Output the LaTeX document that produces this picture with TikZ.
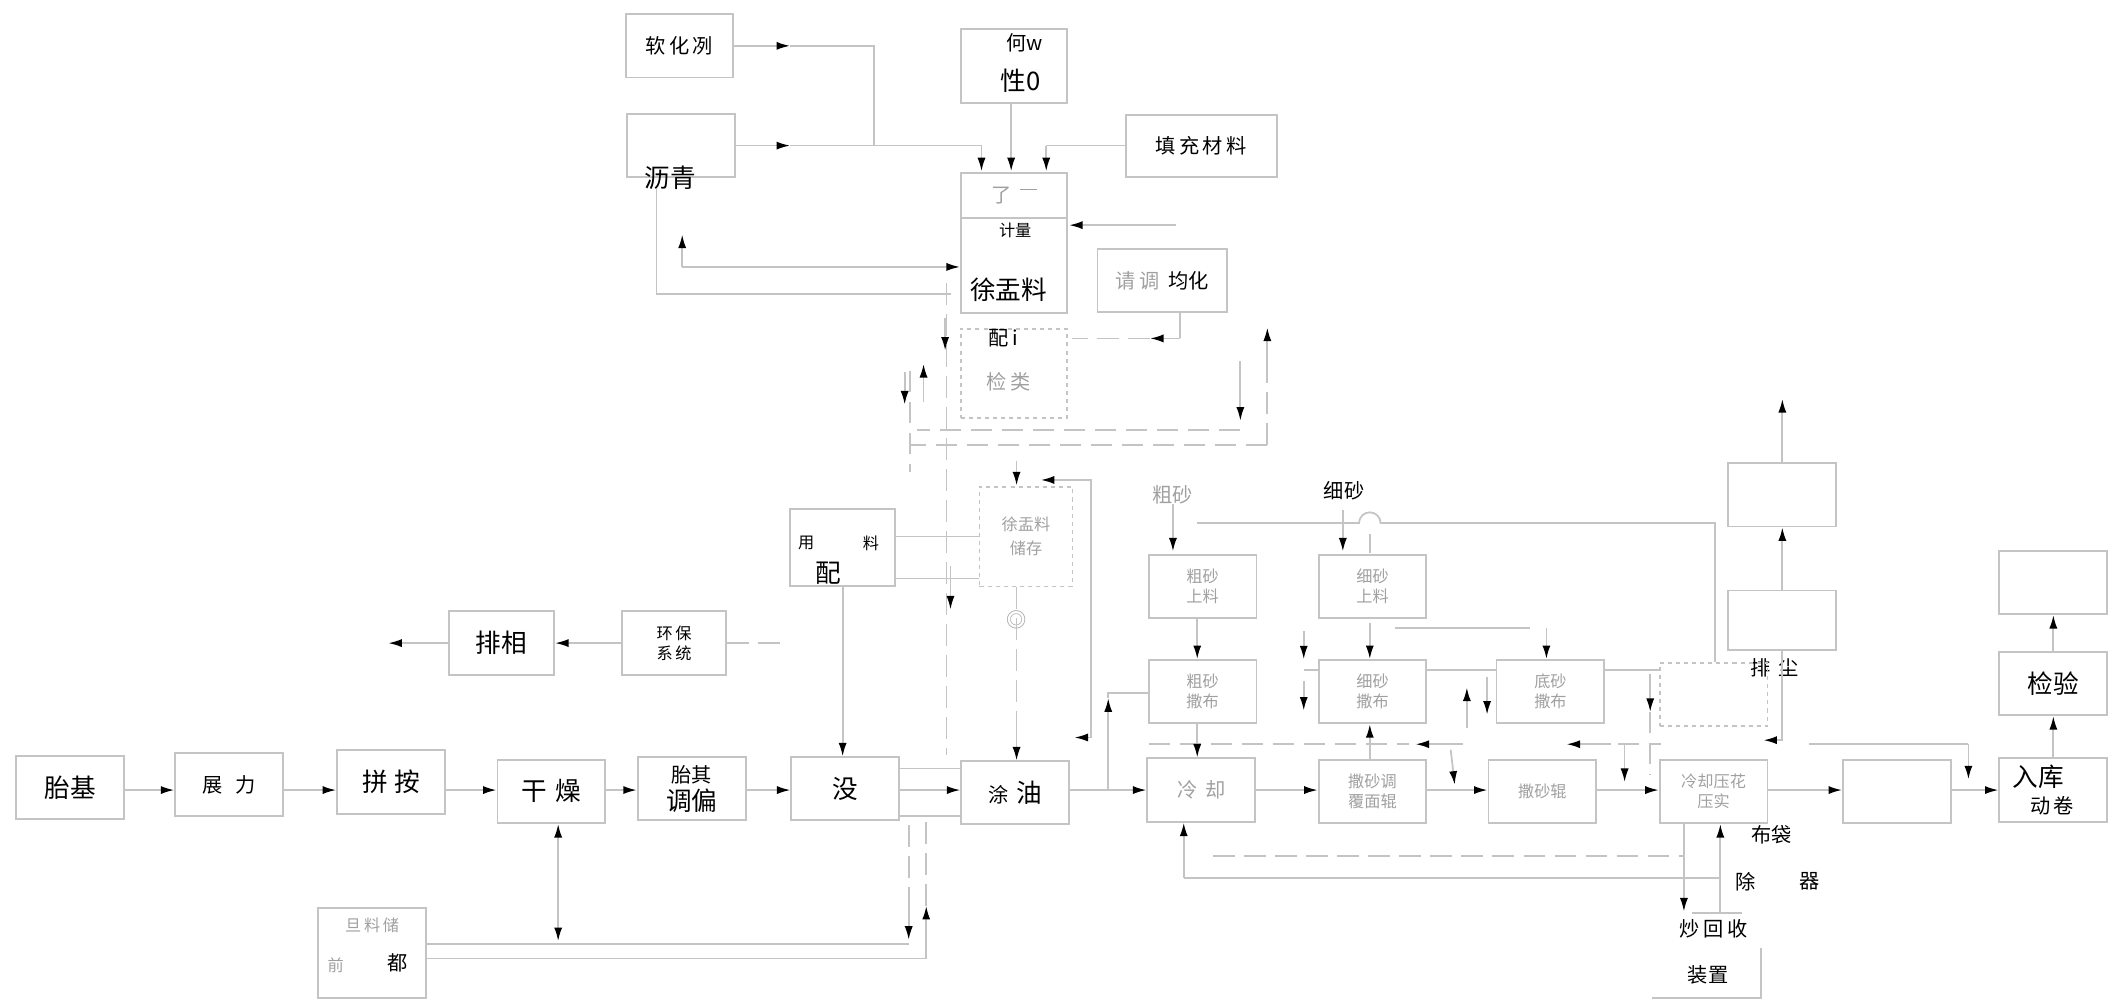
\documentclass[tikz,border=0pt]{standalone}
\usepackage{fontspec}
\setmainfont{Noto Sans CJK SC}
\usetikzlibrary{arrows.meta}
\definecolor{rule}{HTML}{C4C4C4}
\definecolor{pale}{HTML}{A0A0A0}
\newcommand{\fbig}{\fontsize{19}{23}\selectfont}
\newcommand{\fmid}{\fontsize{15}{21}\selectfont}
\newcommand{\fsml}{\fontsize{12}{15}\selectfont}
\tikzset{
  box/.style={draw=rule,line width=1.4pt,minimum width=80pt,minimum height=47pt,inner sep=1pt,
              align=center,font=\fmid},
  dim/.style={text=pale},
  ln/.style={draw=rule,line width=1.3pt},
  dl/.style={ln,dash pattern=on 16pt off 7pt},
  ar/.style={ln,-{Latex[length=10pt,width=6pt,color=black]}},
  lbl/.style={inner sep=0pt,font=\fmid},
}
\begin{document}
\begin{tikzpicture}[x=1pt,y=-1pt]
  \useasboundingbox (0,0) rectangle (1568,746);
  % raw materials
  \node[box] (soft) at (504,34) {软\,化\,冽};
  \node[box] (asph) at (505,108) {};
  \node[lbl,font=\fbig] (asphl) at (497,132) {沥青};
  \node[box,minimum width=79pt,minimum height=55pt] (modi) at (752,49) {};
  \node[lbl] (modia) at (760,32) {何w};
  \node[lbl,font=\fbig] (modib) at (757,60) {性0};
  \node[box,minimum width=112pt,minimum height=46pt,font=\fmid] (fill) at (891,108) {填\,充\,材\,料};
  % metering column
  \node[box,minimum width=79pt,minimum height=34pt,dim] (meta) at (752,145) {了\ \ \rule[9pt]{12pt}{0.8pt}};
  \node[box,minimum width=79pt,minimum height=70pt] (metb) at (752,197) {};
  \node[lbl,font=\fsml] (metl) at (753,171) {计量};
  \node[lbl,font=\fbig] (mixl) at (748,215) {徐盂料};
  \node[box,dashed,minimum width=79pt,minimum height=66pt] (chk1) at (752,277) {};
  \node[lbl] (chkl) at (744,251) {配\,i};
  \node[lbl,dim] (chkm) at (748,283) {检\,类};
  \node[box,minimum width=96pt,minimum height=47pt] (homo) at (862,208) {{\color{pale}请\,调}\ \ 均化};
  % middle
  \node[box,minimum width=78pt,minimum height=57pt] (dose) at (625,406) {};
  \node[lbl,font=\fsml] (dosea) at (598,403) {用};
  \node[lbl,font=\fsml] (doseb) at (646,403) {料};
  \node[lbl,font=\fbig] (dosec) at (614,425) {配};
  \node[box,dashed,minimum width=69pt,minimum height=74pt,dim,font=\fsml] (stor) at (761,398) {徐盂料\\[3pt]储存};
  \node[lbl,dim] (ring) at (754,460) {◎};
  \node[box,minimum width=77pt,minimum height=47pt,font=\fsml] (env) at (500,477) {环\,保\\系\,统};
  \node[box,minimum width=78pt,font=\fbig] (fume) at (372,477) {排相};
  % main line
  \node[box,font=\fbig] (tj) at (52,584) {胎基};
  \node[box] (zl) at (170,582) {展\hspace{9pt}力};
  \node[box,font=\fbig] (pj) at (290,580) {拼\hspace{5pt}按};
  \node[box,font=\fbig] (gz) at (409,587) {干\hspace{6pt}燥};
  \node[box] (tq) at (513,585) {胎其\\{\fbig 调偏}};
  \node[box,font=\fbig] (mo) at (627,585) {没};
  \node[box] (ty) at (753,588) {涂\hspace{6pt}{\fbig 油}};
  \node[box,dim] (lq) at (891,586) {冷\hspace{6pt}却};
  \node[box,dim,font=\fsml] (sf) at (1018,587) {撒砂调\\覆面辊};
  \node[box,dim,font=\fsml] (sg) at (1144,587) {撒砂辊};
  \node[box,dim,font=\fsml] (ly) at (1271,587) {冷却压花\\压实};
  \node[box] (ke) at (1407,587) {};
  \node[box] (rk) at (1523,586) {};
  \node[lbl,font=\fbig] (rka) at (1512,576) {入库};
  \node[lbl] (rkb) at (1522,598) {动\,卷};
  \node[box,font=\fbig] (sy) at (1523,507) {检验};
  \node[box] (tp) at (1523,432) {};
  \node[box] (r1) at (1322,367) {};
  \node[box,minimum height=44pt] (r2) at (1322,460) {};
  \node[lbl] (dust) at (1316,495) {排\hspace{6pt}尘};
  % sand
  \node[lbl,dim] (csl) at (870,367) {粗砂};
  \node[lbl] (xsl) at (997,364) {细砂};
  \node[box,dim,font=\fsml] (s1) at (892,435) {粗砂\\上料};
  \node[box,dim,font=\fsml] (s2) at (1018,435) {细砂\\上料};
  \node[box,dim,font=\fsml] (s3) at (892,513) {粗砂\\撒布};
  \node[box,dim,font=\fsml] (s4) at (1018,513) {细砂\\撒布};
  \node[box,dim,font=\fsml] (s5) at (1150,513) {底砂\\撒布};
  \node[box,dashed] (s6) at (1271,515) {};
  % stock
  \node[box,minimum width=80pt,minimum height=67pt] (stk) at (276,707) {};
  \node[lbl,dim,font=\fsml] (stka) at (276,686) {旦\,料\,储};
  \node[lbl,dim,font=\fsml] (stkb) at (249,716) {前};
  \node[lbl] (stkc) at (295,714) {都};
  % filter
  \node[lbl] (bd) at (1314,619) {布袋};
  \node[lbl] (bc) at (1295,654) {除};
  \node[lbl] (bq) at (1342,654) {器};
  \node[lbl] (bh) at (1271,689) {炒\,回\,收};
  \node[lbl] (bz) at (1267,723) {装置};

  % feed lines
  \draw[ar] (soft.east) -- (586,34);
  \draw[ln] (586,34) -- (648,34) -- (648,108);
  \draw[ar] (asph.east) -- (586,108);
  \draw[ln] (586,108) -- (728,108);
  \draw[ar] (728,108) -- (728,127);
  \draw[ln] (modi.south -| 750,0) -- (750,108);
  \draw[ar] (750,108) -- (750,127);
  \draw[ln] (fill.west) -- (776,108);
  \draw[ar] (776,108) -- (776,127);
  \draw[ar] (872,167) -- (793,167);
  \draw[ln] (homo.south -| 875,0) -- (875,251);
  \draw[ar] (875,251) -- (853,251);
  \draw[dl] (853,251) -- (795,251);
  \draw[ln] (487,140) -- (487,218) -- (705,218);
  \draw[ln] (506,198) -- (700,198);
  \draw[ar] (700,198) -- (712,198);
  \draw[ar] (506,198) -- (506,174);
  \draw[dl] (940,330) -- (940,268);
  \draw[ar] (940,268) -- (940,243);
  \draw[ar] (920,268) -- (920,312);
  \draw[dl] (920,319) -- (680,319);
  \draw[dl] (940,330) -- (675,330);
  \draw[dl] (702,210) -- (702,560);
  \draw[dl] (675,275) -- (675,350);
  \draw[ar] (701,236) -- (701,260);
  \draw[ar] (685,298) -- (685,270);
  \draw[ar] (671,276) -- (671,300);
  % middle
  \draw[ln] (dose.east |- 0,398) -- (stor.west |- 0,398);
  \draw[ln] (dose.east |- 0,429) -- (stor.west |- 0,429);
  \draw[ar] (754,342) -- (754,360);
  \draw[ar] (809,450) -- (809,356) -- (772,356);
  \draw[ar] (809,450) -- (809,547) -- (797,547);
  \draw[ar] (705,420) -- (705,452);
  \draw[ar] (dose.south) -- (625,561);
  \draw[dl] (stor.south -| 754,0) -- (754,540);
  \draw[ar] (754,540) -- (754,564);
  \draw[ar] (env.west) -- (fume.east);
  \draw[ar] (fume.west) -- (288,477);
  \draw[dl] (env.east) -- (585,477);
  % main line
  \foreach \a/\b in {tj/zl,zl/pj,pj/gz,gz/tq,tq/mo,mo/ty,ty/lq,lq/sf,sf/sg,sg/ly,ly/ke,ke/rk}
    \draw[ar] (\a.east |- 0,586) -- (\b.west |- 0,586);
  \draw[ln] (mo.east |- 0,570) -- (ty.west |- 0,570);
  \draw[ln] (mo.east |- 0,605) -- (ty.west |- 0,605);
  \draw[ar] (822,586) -- (822,518);
  \draw[ln] (822,518) -- (822,514) -- (s3.west |- 0,514);
  % stock lines
  \draw[ar] (414,656) -- (gz.south -| 414,0);
  \draw[ar] (414,656) -- (414,698);
  \draw[ln] (stk.east |- 0,700) -- (674,700);
  \draw[dl] (674,612) -- (674,670);
  \draw[ar] (674,670) -- (674,697);
  \draw[ln] (stk.east |- 0,711) -- (687,711) -- (687,694);
  \draw[ar] (687,694) -- (687,672);
  \draw[dl] (687,672) -- (687,610);
  % sand
  \draw[ar] (csl.south) -- (870,409);
  \draw[ar] (996,378) -- (996,409);
  \draw[ln] (888,388) -- (1008,388) arc[start angle=180,end angle=0,radius=8pt] -- (1272,388) -- (1272,491);
  \draw[dl] (1016,396) -- (1016,410);
  \draw[ar] (s1.south -| 888,0) -- (s3.north -| 888,0);
  \draw[ar] (967,468) -- (967,489);
  \draw[ar] (967,505) -- (967,527);
  \draw[ln] (967,497) -- (s4.west |- 0,497);
  \draw[ln] (s4.east |- 0,497) -- (s5.west |- 0,497);
  \draw[ln] (s5.east |- 0,497) -- (s6.west |- 0,497);
  \draw[ln] (1035,466) -- (1135,466);
  \draw[ar] (1016,462) -- (s4.north -| 1016,0);
  \draw[ar] (1147,466) -- (s5.north -| 1147,0);
  \draw[ar] (1088,540) -- (1088,510);
  \draw[ar] (1103,502) -- (1103,530);
  \draw[ar] (1224,500) -- (1224,528);
  \draw[dl] (1224,528) -- (1224,575);
  \draw[dl] (852,552) -- (1045,552);
  \draw[ar] (1085,552) -- (1050,552);
  \draw[ar] (1195,552) -- (1162,552);
  \draw[dl] (1200,552) -- (1232,552);
  \draw[ar] (r2.south) -- (1322,549) -- (1308,549);
  \draw[ar] (s3.south -| 888,0) -- (lq.north -| 888,0);
  \draw[ar] (sf.north -| 1016,0) -- (s4.south -| 1016,0);
  \draw[ar] (1076,556) -- (1079,582);
  \draw[ar] (1205,552) -- (1205,580);
  \draw[ln] (1342,552) -- (1460,552);
  \draw[ar] (1460,552) -- (1460,578);
  \draw[ar] (r2.north) -- (r1.south);
  \draw[ar] (r1.north) -- (1322,296);
  \draw[ar] (rk.north) -- (sy.south);
  \draw[ar] (sy.north) -- (tp.south);
  % filter loop
  \draw[ln] (1276,651) -- (878,651);
  \draw[ar] (878,651) -- (lq.south -| 878,0);
  \draw[dl] (900,635) -- (1249,635);
  \draw[ar] (ly.south -| 1249,0) -- (1249,676);
  \draw[ar] (1276,677) -- (ly.south -| 1276,0);
  \draw[ln] (1255,677) -- (1292,677);
  \draw[ln] (1306,703) -- (1306,740) -- (1225,740);
\end{tikzpicture}
\end{document}
